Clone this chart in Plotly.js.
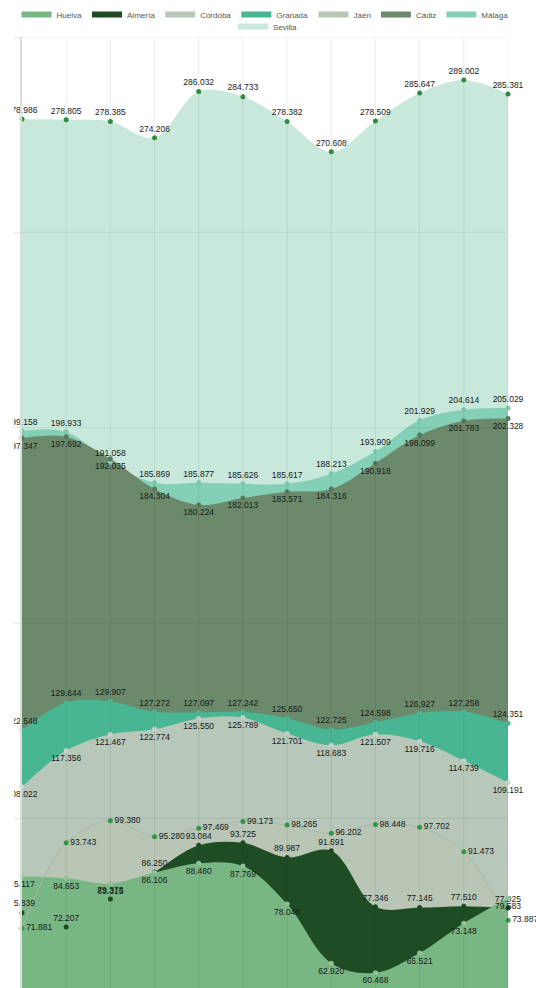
<!DOCTYPE html>
<html>
<head>
<meta charset="utf-8">
<script src="https://cdn.plot.ly/plotly-3.0.1.min.js"></script>
<style>
html,body{margin:0;padding:0;background:#fff;overflow:hidden;}
#wrap{position:relative;width:536px;height:988px;overflow:hidden;}
#chart{position:absolute;left:0;top:0;width:536px;height:1260px;}
#edge{position:absolute;left:0;top:34px;width:14px;height:954px;background:#fff;}
</style>
</head>
<body>
<div id="wrap"><div id="chart"></div><div id="edge"></div></div>
<script>
// Periods (x-axis labels are not visible in the reference)
var periods = ['1','2','3','4','5','6','7','8','9','10','11','12'];

var seriesNames = ['Huelva','Almería','Córdoba','Granada','Jaén','Cádiz','Málaga','Sevilla'];

var huelva  = [85.117, 84.653, 83.315, 86.106, 88.480, 87.769, 78.048, 62.920, 60.468, 65.521, 73.148, 79.583];
var almeria = [75.839, 72.207, 79.373, 86.250, 93.084, 93.725, 89.987, 91.691, 77.346, 77.145, 77.510, 77.025];
var cordoba = [108.022, 117.356, 121.467, 122.774, 125.550, 125.789, 121.701, 118.683, 121.507, 119.716, 114.739, 109.191];
var granada = [122.548, 129.644, 129.907, 127.272, 127.097, 127.242, 125.650, 122.725, 124.598, 126.927, 127.258, 124.351];
var jaen    = [71.881, 93.743, 99.380, 95.280, 97.469, 99.173, 98.265, 96.202, 98.448, 97.702, 91.473, 73.887];
var cadiz   = [197.347, 197.692, 192.035, 184.304, 180.224, 182.013, 183.571, 184.316, 190.918, 198.099, 201.783, 202.328];
var malaga  = [199.158, 198.933, 191.058, 185.869, 185.877, 185.626, 185.617, 188.213, 193.909, 201.929, 204.614, 205.029];
var sevilla = [278.986, 278.805, 278.385, 274.206, 286.032, 284.733, 278.382, 270.608, 278.509, 285.647, 289.002, 285.381];

var values = {
  'Huelva': huelva, 'Almería': almeria, 'Córdoba': cordoba, 'Granada': granada,
  'Jaén': jaen, 'Cádiz': cadiz, 'Málaga': malaga, 'Sevilla': sevilla
};

var style = {
  'Sevilla': {fill:'#c8e8dc', marker:'#2f8f3f', pos:'top center'},
  'Málaga':  {fill:'#84d0b6', marker:'#7fcbb1', pos:'top center'},
  'Cádiz':   {fill:'#6a8a6b', marker:'#5a7a5b', pos:'bottom center'},
  'Granada': {fill:'#48b693', marker:'#4cb795', pos:'top center'},
  'Córdoba': {fill:'#b7c7b9', marker:'#c9d4ca', pos:'bottom center'},
  'Jaén':    {fill:'#b9c6b6', marker:'#35994a', pos:'middle right', line:'#a9b7a8'},
  'Almería': {fill:'#1f4d23', marker:'#1f4a23', pos:'top center'},
  'Huelva':  {fill:'#78b683', marker:'#93c59b', pos:'bottom center'}
};

// which legend box each series goes to (legend row 1 is split in two boxes, row 2 holds Sevilla)
var legendOf = {
  'Huelva':'legend', 'Almería':'legend', 'Córdoba':'legend', 'Granada':'legend',
  'Jaén':'legend3', 'Cádiz':'legend3', 'Málaga':'legend3', 'Sevilla':'legend2'
};

// draw order of fills (back to front)
var drawOrder = ['Sevilla','Málaga','Cádiz','Granada','Córdoba','Jaén','Almería','Huelva'];

var traces = [];
drawOrder.forEach(function(name){
  var s = style[name];
  traces.push({
    type:'scatter', x: periods, y: values[name], name: name,
    mode:'none', fill:'tozeroy', fillcolor: s.fill,
    line:{shape:'spline', smoothing:1, width:0, color:s.fill},
    legend: legendOf[name],
    legendrank: seriesNames.indexOf(name) + 1,
    hoverinfo:'skip'
  });
});
drawOrder.forEach(function(name){
  var s = style[name];
  traces.push({
    type:'scatter', x: periods, y: values[name], name: name,
    mode: s.line ? 'lines+markers+text' : 'markers+text',
    line:{shape:'spline', smoothing:1, width:1, color: s.line || s.fill},
    marker:{size:5, color:s.marker},
    text: values[name].map(function(v){ return v.toFixed(3); }),
    textposition: s.pos,
    textfont:{family:'Liberation Sans, Arial, sans-serif', size:8.5, color:'#1a1a1a'},
    cliponaxis:false,
    showlegend:false,
    hoverinfo:'x+y+name'
  });
});

var shapes = [];
periods.forEach(function(p){
  shapes.push({type:'line', xref:'x', yref:'y', x0:p, x1:p, y0:0, y1:300,
    line:{color:'rgba(0,0,0,0.07)', width:1}, layer:'above'});
});
for (var v = 50; v <= 300; v += 50) {
  shapes.push({type:'line', xref:'paper', yref:'y', x0:0, x1:1, y0:v, y1:v,
    line:{color:'rgba(0,0,0,0.07)', width:1}, layer:'above'});
}

var legendFont = {family:'Liberation Sans, Arial, sans-serif', size:8, color:'#555'};
function legendBox(x, xanchor, y) {
  return {orientation:'h', xref:'container', x:x, xanchor:xanchor,
    yref:'container', y:y, yanchor:'top', font:legendFont, itemwidth:30,
    tracegroupgap:0, bgcolor:'rgba(0,0,0,0)'};
}

var layout = {
  width:536, height:1260,
  margin:{l:22, r:28, t:37, b:51, autoexpand:false},
  paper_bgcolor:'#ffffff', plot_bgcolor:'#ffffff',
  font:{family:'Liberation Sans, Arial, sans-serif', size:8, color:'#555'},
  showlegend:true,
  legend:  legendBox(0.585, 'right', 1),
  legend3: legendBox(0.585, 'left', 1),
  legend2: legendBox(0.5, 'center', 1 - 12/1260),
  xaxis:{type:'category', range:[0, periods.length-1], showgrid:false, zeroline:false,
    showticklabels:false, ticks:'', showline:false, fixedrange:true},
  yaxis:{range:[0,300], dtick:50, showgrid:false, zeroline:false, showticklabels:false,
    ticks:'outside', ticklen:6, tickcolor:'#e6e6e6', showline:true, linecolor:'#dcdcdc',
    linewidth:2, fixedrange:true},
  shapes: shapes,
  hovermode:'closest'
};

Plotly.newPlot('chart', traces, layout, {displayModeBar:false, staticPlot:true});
</script>
</body>
</html>
